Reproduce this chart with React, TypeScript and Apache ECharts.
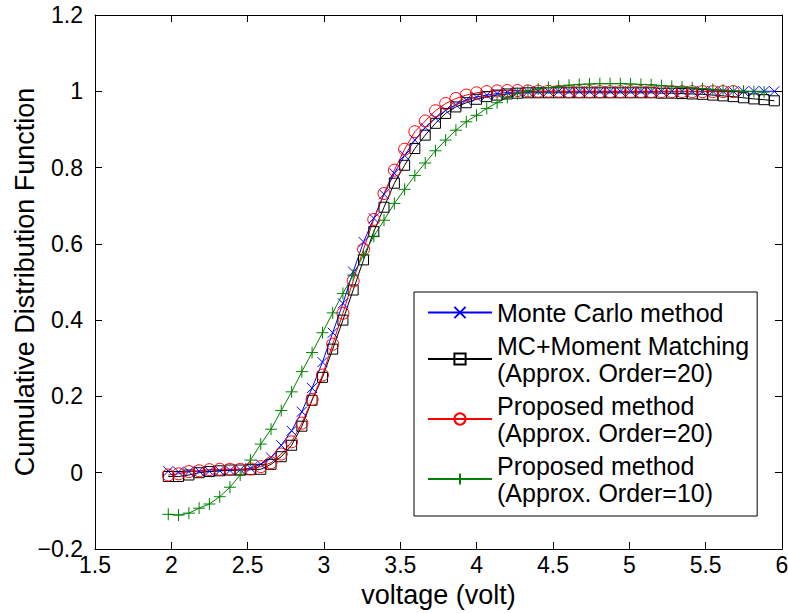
import React, { useEffect, useRef } from "react";
import * as echarts from "echarts";

// Shared voltage sample grid (volt)
const voltage = [
  1.98, 2.047, 2.115, 2.182, 2.249, 2.317, 2.384, 2.451, 2.518, 2.586,
  2.653, 2.72, 2.788, 2.855, 2.922, 2.99, 3.057, 3.124, 3.191, 3.259,
  3.326, 3.393, 3.461, 3.528, 3.595, 3.663, 3.73, 3.797, 3.864, 3.932,
  3.999, 4.066, 4.134, 4.201, 4.268, 4.336, 4.403, 4.47, 4.537, 4.605,
  4.672, 4.739, 4.807, 4.874, 4.941, 5.008, 5.076, 5.143, 5.21, 5.278,
  5.345, 5.412, 5.479, 5.547, 5.614, 5.681, 5.748, 5.816, 5.883, 5.95,
];

const monteCarlo = [
  0.004, 0.002, 0.003, 0.004, 0.004, 0.005, 0.006, 0.008, 0.012, 0.022,
  0.04, 0.072, 0.11, 0.16, 0.222, 0.29, 0.367, 0.444, 0.527, 0.605,
  0.667, 0.73, 0.785, 0.832, 0.872, 0.905, 0.93, 0.95, 0.965, 0.977,
  0.985, 0.99, 0.994, 0.997, 0.998, 0.999, 1.0, 1.0, 1.0, 1.0,
  1.0, 1.0, 1.0, 1.0, 1.0, 1.0, 1.0, 1.0, 1.0, 1.0,
  1.0, 1.0, 1.0, 1.0, 1.0, 1.0, 1.0, 1.0, 1.0, 1.0,
];

const momentMatching20 = [
  -0.01, -0.01, -0.006, 0.0, 0.003, 0.005, 0.007, 0.007, 0.008, 0.009,
  0.022, 0.042, 0.072, 0.122, 0.19, 0.25, 0.324, 0.4, 0.479, 0.558,
  0.632, 0.696, 0.759, 0.806, 0.85, 0.885, 0.916, 0.942, 0.959, 0.97,
  0.979, 0.986, 0.99, 0.993, 0.995, 0.996, 0.996, 0.996, 0.996, 0.996,
  0.996, 0.996, 0.996, 0.996, 0.996, 0.996, 0.996, 0.996, 0.995, 0.995,
  0.994, 0.993, 0.992, 0.99, 0.988, 0.986, 0.983, 0.98, 0.978, 0.975,
];

const proposed20 = [
  -0.006, -0.003, 0.003, 0.005, 0.008, 0.009, 0.009, 0.009, 0.01, 0.016,
  0.026, 0.049, 0.081, 0.13, 0.192, 0.256, 0.337, 0.418, 0.503, 0.586,
  0.664, 0.732, 0.793, 0.848, 0.894, 0.922, 0.949, 0.968, 0.981, 0.99,
  0.996, 0.999, 1.001, 1.002, 1.002, 1.001, 1.0, 1.0, 1.0, 0.999,
  0.999, 0.999, 0.999, 0.999, 0.999, 0.999, 0.999, 0.999, 0.999, 0.999,
  0.999, 0.999, 0.999, 0.999, 0.999, 0.999,
];

const proposed10 = [
  -0.109, -0.111, -0.106, -0.093, -0.082, -0.063, -0.038, -0.006, 0.033, 0.075,
  0.114, 0.163, 0.212, 0.265, 0.315, 0.367, 0.419, 0.47, 0.518, 0.571,
  0.62, 0.662, 0.706, 0.743, 0.779, 0.812, 0.844, 0.872, 0.898, 0.92,
  0.937, 0.955, 0.97, 0.984, 0.994, 1.001, 1.006, 1.01, 1.013, 1.016,
  1.018, 1.019, 1.02, 1.02, 1.02, 1.019, 1.018, 1.017, 1.015, 1.013,
  1.011, 1.009, 1.007, 1.005, 1.003, 1.001, 1.0, 0.999, 0.998,
];

const seriesNames = [
  "Monte Carlo method",
  "MC+Moment Matching\n(Approx. Order=20)",
  "Proposed method\n(Approx. Order=20)",
  "Proposed method\n(Approx. Order=10)",
];

const xMin = 1.5;
const xMax = 6;
const xStep = 0.5;
const yMin = -0.2;
const yMax = 1.2;
const yStep = 0.2;

const FONT = "'Liberation Sans', Arial, Helvetica, sans-serif";

const CROSS = "path://M0,0L10,10M10,0L0,10";
const PLUS = "path://M5,0L5,10M0,5L10,5";

function pairs(ys: number[]) {
  return ys.map((y, i) => [voltage[i], y]);
}

function fmt(v: number) {
  const s = String(Number(v.toFixed(2)));
  return s.replace("-", "\u2212");
}

function lineSeries(name: string, ys: number[], color: string, symbol: string, size: number) {
  return {
    name,
    type: "line",
    data: pairs(ys),
    symbol,
    symbolSize: size,
    showSymbol: true,
    showAllSymbol: true,
    xAxisIndex: 0,
    yAxisIndex: 0,
    lineStyle: { color, width: 1 },
    itemStyle: { color: "rgba(0,0,0,0)", borderColor: color, borderWidth: 1 },
    emphasis: { disabled: true },
  };
}

export default function App() {
  const ref = useRef<HTMLDivElement>(null);

  useEffect(() => {
    if (!ref.current) return;
    const chart = echarts.init(ref.current, undefined, { renderer: "svg" });
    const axisLine = { show: true, onZero: false, lineStyle: { color: "#000", width: 1 } };
    const axisTick = { show: true, inside: true, length: 7, lineStyle: { color: "#000", width: 1 } };
    chart.setOption({
      animation: false,
      backgroundColor: "#fff",
      grid: {
        left: 95,
        right: 6,
        top: 15,
        bottom: 64,
        containLabel: false,
        outerBoundsMode: "none",
      },
      xAxis: [
        {
          type: "value",
          position: "bottom",
          min: xMin,
          max: xMax,
          interval: xStep,
          axisLine,
          axisTick,
          splitLine: { show: false },
          axisLabel: {
            color: "#000",
            fontSize: 23,
            fontFamily: FONT,
            margin: 4,
            showMinLabel: true,
            showMaxLabel: true,
            formatter: (v: number) => fmt(v),
          },
          name: "voltage (volt)",
          nameLocation: "middle",
          nameGap: 32,
          nameMoveOverlap: false,
          nameTextStyle: { color: "#000", fontSize: 27, fontFamily: FONT },
        },
        {
          type: "value",
          position: "top",
          min: xMin,
          max: xMax,
          interval: xStep,
          axisLine,
          axisTick,
          splitLine: { show: false },
          axisLabel: { show: false },
        },
      ],
      yAxis: [
        {
          type: "value",
          position: "left",
          min: yMin,
          max: yMax,
          interval: yStep,
          axisLine,
          axisTick,
          splitLine: { show: false },
          axisLabel: {
            color: "#000",
            fontSize: 23,
            fontFamily: FONT,
            margin: 12,
            showMinLabel: true,
            showMaxLabel: true,
            formatter: (v: number) => fmt(v),
          },
          name: "Cumulative Distribution Function",
          nameLocation: "middle",
          nameGap: 57,
          nameRotate: 90,
          nameMoveOverlap: false,
          nameTextStyle: { color: "#000", fontSize: 27, fontFamily: FONT },
        },
        {
          type: "value",
          position: "right",
          min: yMin,
          max: yMax,
          interval: yStep,
          axisLine,
          axisTick,
          splitLine: { show: false },
          axisLabel: { show: false },
        },
      ],
      legend: {
        show: true,
        orient: "vertical",
        left: 414,
        top: 292,
        padding: [7, 8, 10, 13],
        itemGap: 6,
        itemWidth: 64,
        itemHeight: 14,
        borderColor: "#000",
        borderWidth: 1,
        backgroundColor: "#fff",
        selectedMode: false,
        textStyle: { color: "#000", fontSize: 25, fontFamily: FONT, lineHeight: 27 },
        data: seriesNames,
      },
      series: [
        lineSeries(seriesNames[0], monteCarlo, "#0000ff", CROSS, 10),
        lineSeries(seriesNames[1], momentMatching20, "#000000", "rect", 10),
        lineSeries(seriesNames[2], proposed20, "#ff0000", "circle", 12),
        lineSeries(seriesNames[3], proposed10, "#008000", PLUS, 12),
      ],
    });
    return () => chart.dispose();
  }, []);

  return (
    <div
      ref={ref}
      style={{ position: "absolute", left: 0, top: 0, width: 788, height: 613, background: "#fff" }}
    />
  );
}
